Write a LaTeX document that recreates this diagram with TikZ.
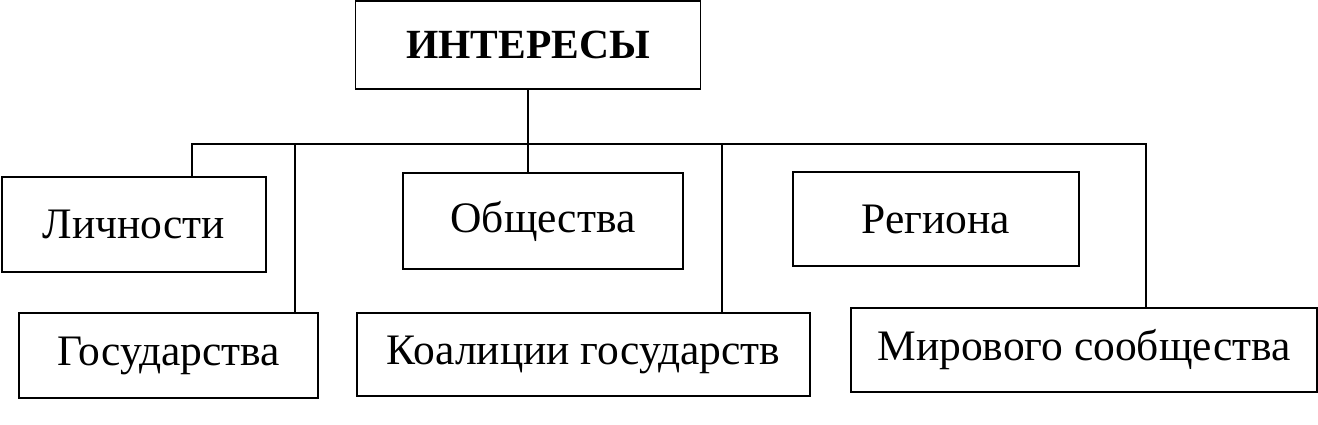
\documentclass[tikz,border=0pt]{standalone}
\usepackage{fontspec}
\setmainfont{Liberation Serif}
\begin{document}
\begin{tikzpicture}[x=1pt,y=1pt,
  box/.style={draw, line width=1.6pt, inner sep=0pt, font=\fontsize{43.5}{50}\selectfont},
  link/.style={line width=1.3pt}]
\tikzstyle{every node}+=[inner sep=0pt]
\useasboundingbox (0,0) rectangle (1318,-424);
\node [box, minimum width=345, minimum height=88, font=\fontsize{41.5}{50}\selectfont\bfseries] (top) at (528,-45) {ИНТЕРЕСЫ};
\node [box, minimum width=264, minimum height=95] (lich) at (134,-224.5) {Личности};
\node [box, minimum width=299, minimum height=85] (gos) at (168.5,-355.5) {Государства};
\node [box, minimum width=280, minimum height=96] (obsh) at (543,-221) {Общества};
\node [box, minimum width=453, minimum height=83] (koal) at (583.5,-354.5) {Коалиции государств};
\node [box, minimum width=286, minimum height=94] (reg) at (936,-219) {Региона};
\node [box, minimum width=466, minimum height=84] (mir) at (1084,-350) {Мирового сообщества};
\coordinate (jL) at (192,-144);
\coordinate (jG) at (295,-144);
\coordinate (jK) at (722,-144);
\coordinate (jM) at (1146,-144);
\draw [link] (top.south) -- (top.south |- jL);
\draw [link] (jL |- lich.north) -- (jL) -- (jM) -- (jM |- mir.north);
\draw [link] (jG) -- (jG |- gos.north);
\draw [link] (top.south |- jL) -- (top.south |- obsh.north);
\draw [link] (jK) -- (jK |- koal.north);
\end{tikzpicture}
\end{document}
